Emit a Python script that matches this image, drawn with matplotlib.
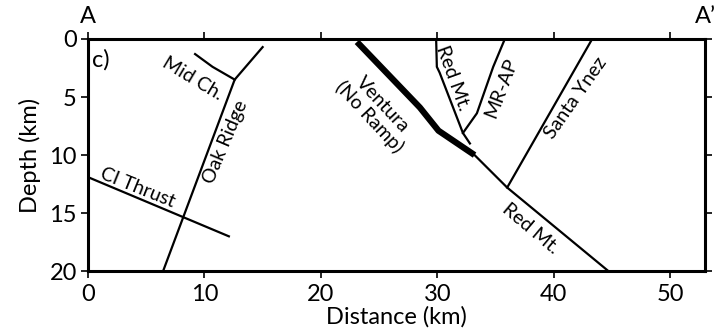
import matplotlib
matplotlib.use("Agg")
import matplotlib.pyplot as plt

plt.rcParams['font.family'] = ['Lato', 'DejaVu Sans']

# fault traces (distance km, depth km)
mid_ch_x = [9.2, 10.7, 12.6]
mid_ch_y = [1.3, 2.4, 3.5]
oak_ridge_x = [15.0, 12.6, 6.45]
oak_ridge_y = [0.7, 3.5, 20.0]
ci_thrust_x = [0.0, 12.1]
ci_thrust_y = [11.9, 17.0]
ventura_x = [23.1, 28.5, 30.1, 33.2]
ventura_y = [0.25, 5.9, 7.9, 10.0]
red_mt_low_x = [33.2, 36.0, 44.7]
red_mt_low_y = [10.0, 12.8, 20.0]
santa_ynez_x = [43.3, 36.0]
santa_ynez_y = [0.0, 12.8]
red_mt_up_x = [29.9, 29.96, 30.2, 32.2, 32.8]
red_mt_up_y = [0.0, 2.4, 2.9, 8.1, 9.0]
mr_ap_x = [35.8, 34.8, 33.4, 32.2]
mr_ap_y = [0.0, 2.4, 6.4, 8.1]

# labels: text, x, y, rotation
labels = [
    ("Mid Ch.", 9.0, 3.4, -31),
    ("Oak Ridge", 11.8, 8.9, 67),
    ("Ventura\n(No Ramp)", 24.7, 6.2, -47),
    ("Red Mt.", 31.3, 3.4, -70),
    ("MR-AP", 35.5, 4.2, 69),
    ("Santa Ynez", 41.9, 5.1, 55),
    ("CI Thrust", 4.3, 12.8, -22),
    ("Red Mt.", 38.0, 16.3, -40),
]

fig = plt.figure(figsize=(7.21, 3.36), dpi=100)
ax = fig.add_axes([0.122, 0.193, 0.856, 0.691])

lw = 1.6
ax.plot(mid_ch_x, mid_ch_y, color='black', lw=lw)
ax.plot(oak_ridge_x, oak_ridge_y, color='black', lw=lw)
ax.plot(ci_thrust_x, ci_thrust_y, color='black', lw=lw)
ax.plot(red_mt_low_x, red_mt_low_y, color='black', lw=lw)
ax.plot(santa_ynez_x, santa_ynez_y, color='black', lw=lw)
ax.plot(red_mt_up_x, red_mt_up_y, color='black', lw=lw)
ax.plot(mr_ap_x, mr_ap_y, color='black', lw=lw)
ax.plot(ventura_x, ventura_y, color='black', lw=4.5, solid_capstyle='butt')

for txt, x, y, rot in labels:
    ax.text(x, y, txt, rotation=rot, ha='center', va='center',
            fontsize=14, rotation_mode='anchor', linespacing=1.0)

ax.text(1.1, 1.8, "c)", fontsize=17, ha='center', va='center')

ax.set_xlim(0, 53)
ax.set_ylim(20, 0)
ax.set_xticks([0, 10, 20, 30, 40, 50])
ax.set_yticks([0, 5, 10, 15, 20])
ax.tick_params(direction='out', length=5, width=1.2, labelsize=17,
               top=True, right=True)
ax.tick_params(axis='x', pad=4)
ax.tick_params(axis='y', pad=3)
for s in ax.spines.values():
    s.set_linewidth(2.2)

ax.set_xlabel("Distance (km)", fontsize=17, labelpad=1)
ax.set_ylabel("Depth (km)", fontsize=17, labelpad=6)

ax.text(0, 1.05, "A", transform=ax.transAxes, fontsize=17, ha='center', va='bottom')
ax.text(1.0, 1.05, "A\u2019", transform=ax.transAxes, fontsize=17, ha='center', va='bottom')

fig.savefig("out.png", dpi=100)
